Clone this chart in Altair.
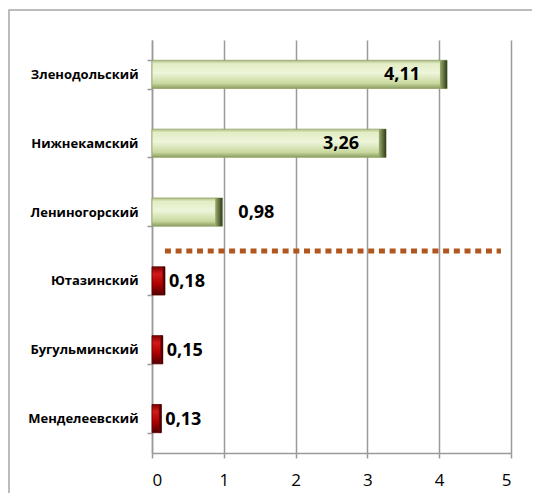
import altair as alt
import pandas as pd

regions = ["Зленодольский", "Нижнекамский", "Лениногорский", "Ютазинский", "Бугульминский", "Менделеевский"]
values = [4.11, 3.26, 0.98, 0.18, 0.15, 0.13]
x_ticks = [0, 1, 2, 3, 4, 5]

df = pd.DataFrame({"region": regions, "value": values})

FONT = "Open Sans"

green = alt.Gradient(
    gradient="linear", x1=0, y1=0, x2=0, y2=1,
    stops=[
        alt.GradientStop(offset=0, color="#aebf82"),
        alt.GradientStop(offset=0.12, color="#e3edc6"),
        alt.GradientStop(offset=0.45, color="#eef5da"),
        alt.GradientStop(offset=0.82, color="#c8d89e"),
        alt.GradientStop(offset=1, color="#8a9d5e"),
    ],
)
green_cap = alt.Gradient(
    gradient="linear", x1=0, y1=0, x2=1, y2=0,
    stops=[
        alt.GradientStop(offset=0, color="#9aae6c"),
        alt.GradientStop(offset=1, color="#2f3a1c"),
    ],
)
red = alt.Gradient(
    gradient="linear", x1=0, y1=0, x2=0, y2=1,
    stops=[
        alt.GradientStop(offset=0, color="#7a0000"),
        alt.GradientStop(offset=0.25, color="#d41a1a"),
        alt.GradientStop(offset=0.6, color="#b00000"),
        alt.GradientStop(offset=1, color="#4f0000"),
    ],
)
red_cap = alt.Gradient(
    gradient="linear", x1=0, y1=0, x2=1, y2=0,
    stops=[
        alt.GradientStop(offset=0, color="#8a0000"),
        alt.GradientStop(offset=1, color="#2a0000"),
    ],
)

y_enc = alt.Y(
    "region:N", sort=regions, title=None,
    scale=alt.Scale(paddingInner=0.59, paddingOuter=0.295),
    axis=alt.Axis(
        tickBand="extent", domainColor="#9a9a9a", domainWidth=1.5,
        tickColor="#9a9a9a", tickWidth=1.5, tickSize=5, labelPadding=9,
        labelFont=FONT, labelFontSize=13, labelFontWeight="bold",
        labelColor="#000000", grid=False,
    ),
)
x_enc = alt.X(
    "value:Q", title=None,
    scale=alt.Scale(domain=[0, 5], nice=False),
    axis=alt.Axis(
        values=x_ticks, format="d", grid=True, gridColor="#9a9a9a", gridWidth=1.5,
        domainColor="#9a9a9a", domainWidth=1.5, tickColor="#9a9a9a", tickWidth=1.5,
        tickSize=5, labelPadding=14, labelFont=FONT, labelFontSize=17,
        labelColor="#000000",
    ),
)

base = alt.Chart(df).transform_calculate(
    label="replace(format(datum.value, '.2f'), '.', ',')",
    cap="datum.value > 0.5 ? datum.value - 0.1 : datum.value - 0.035",
)

Y = alt.Y("region:N", sort=regions)

bars_green = base.transform_filter("datum.value > 0.5").mark_bar(
    color=green, stroke="#93a56a", strokeWidth=0.8
).encode(x="value:Q", y=Y)

bars_red = base.transform_filter("datum.value <= 0.5").mark_bar(
    color=red, stroke="#5a0000", strokeWidth=0.8
).encode(x="value:Q", y=Y)

caps_green = base.transform_filter("datum.value > 0.5").mark_bar(color=green_cap).encode(
    x="cap:Q", x2="value:Q", y=Y
)
caps_red = base.transform_filter("datum.value <= 0.5").mark_bar(color=red_cap).encode(
    x="cap:Q", x2="value:Q", y=Y
)

txt_style = dict(font=FONT, fontSize=18, fontWeight="bold", color="#000000", baseline="middle", dy=1)
labels_in = base.transform_filter("datum.value > 2").mark_text(align="right", dx=-27, **txt_style).encode(
    x="value:Q", y=Y, text="label:N"
)
labels_mid = base.transform_filter("datum.value > 0.5 && datum.value <= 2").mark_text(align="left", dx=16, **txt_style).encode(
    x="value:Q", y=Y, text="label:N"
)
labels_low = base.transform_filter("datum.value <= 0.5").mark_text(align="left", dx=4, **txt_style).encode(
    x="value:Q", y=Y, text="label:N"
)

axes_layer = alt.Chart(df).mark_point(opacity=0).encode(x=x_enc, y=y_enc)

sep = alt.Chart(alt.Data(values=[{"x0": 0.18, "x1": 4.86}])).mark_rule(
    color="#b0561e", strokeWidth=5, strokeDash=[6, 4.7]
).encode(x="x0:Q", x2="x1:Q", y=alt.value(211))

frame = alt.Chart(alt.Data(values=[{}])).mark_rect(
    fill=None, fillOpacity=0, stroke="#a6a6a6", strokeWidth=1.5, clip=False
).encode(
    x=alt.value(-143), x2=alt.value(700), y=alt.value(-30), y2=alt.value(700)
)

chart = alt.layer(
    axes_layer, frame,
    bars_green, caps_green, bars_red, caps_red,
    sep, labels_in, labels_mid, labels_low,
).properties(
    width=359, height=413,
    background="#ffffff",
    autosize=alt.AutoSizeParams(type="none"),
    padding={"left": 144, "top": 32, "right": 21, "bottom": 40},
).configure_view(stroke=None)

chart.save("out.html", embed_options={"renderer": "svg", "actions": False})
